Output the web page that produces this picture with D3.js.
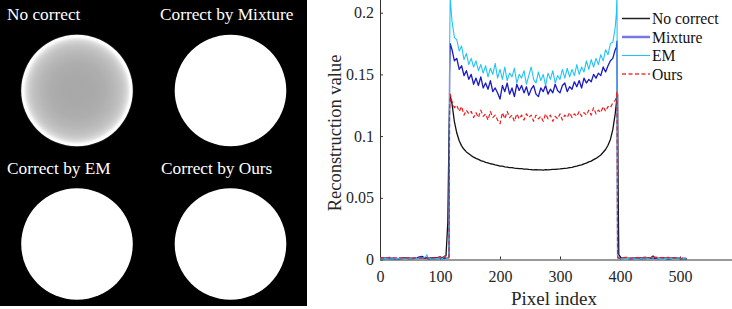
<!DOCTYPE html>
<html>
<head>
<meta charset="utf-8">
<script src="https://cdn.jsdelivr.net/npm/d3@7/dist/d3.min.js"></script>
<style>
  html, body { margin: 0; padding: 0; background: #fff; }
  svg { display: block; }
</style>
</head>
<body>
<div id="chart"></div>
<script>
// pixel positions along the profile line (sampled)
const pixelIndex = [
  0, 8, 16, 24, 32, 40, 48, 56, 62, 64, 70, 76, 78, 80, 88, 96, 100, 104, 108, 110, 113, 115,
  116, 117,
  120, 124, 128, 132, 136, 140, 144, 148, 152, 156,
  160, 164, 168, 172, 176, 180, 184, 188, 192, 196,
  200, 204, 208, 212, 216, 220, 224, 228, 232, 236,
  240, 244, 248, 252, 256, 260, 264, 268, 272, 276,
  280, 284, 288, 292, 296, 300, 304, 308, 312, 316,
  320, 324, 328, 332, 336, 340, 344, 348, 352, 356,
  360, 364, 368, 372, 376, 380, 384, 388, 392,
  394, 395, 396, 397, 398,
  402, 410, 418, 426, 434, 442, 448, 452, 455, 458, 464, 472, 480, 488, 496, 502, 508, 511
];

const noCorrect = [
  0.0010, 0.0008, 0.0011, 0.0007, 0.0009, 0.0012, 0.0008, 0.0010, 0.0009, 0.0011, 0.0010,
  0.0013, 0.0012, 0.0010, 0.0014, 0.0012, 0.0016, 0.0018, 0.0022, 0.0030, 0.0300, 0.1000,
  0.126, 0.133,
  0.1262, 0.1118, 0.1025, 0.0962, 0.0921, 0.0893, 0.0872, 0.0857, 0.0842, 0.0829,
  0.0819, 0.0811, 0.0801, 0.0796, 0.0787, 0.0783, 0.0776, 0.0773, 0.0767, 0.0763,
  0.0757, 0.0756, 0.0751, 0.0749, 0.0745, 0.0744, 0.0740, 0.0739, 0.0736, 0.0736,
  0.0733, 0.0733, 0.0730, 0.0729, 0.0727, 0.0728, 0.0726, 0.0727, 0.0725, 0.0728,
  0.0726, 0.0729, 0.0730, 0.0731, 0.0733, 0.0734, 0.0737, 0.0739, 0.0741, 0.0745,
  0.0747, 0.0752, 0.0756, 0.0762, 0.0767, 0.0775, 0.0781, 0.0791, 0.0797, 0.0809,
  0.0819, 0.0833, 0.0847, 0.0869, 0.0891, 0.0926, 0.0973, 0.1052, 0.1180,
  0.127, 0.131, 0.134, 0.050, 0.004,
  0.0012, 0.0010, 0.0009, 0.0011, 0.0008, 0.0010, 0.0012, 0.0011, 0.0013,
  0.0010, 0.0009, 0.0011, 0.0008, 0.0010, 0.0009, 0.0007, 0.0008, 0.0006
];

const mixture = [
  0.0008, 0.0012, 0.0006, 0.0010, 0.0005, 0.0009, 0.0011, 0.0007, 0.0012, 0.0020, 0.0025,
  0.0009, 0.0014, 0.0006, 0.0010, 0.0008, 0.0015, 0.0007, 0.0012, 0.0009, 0.0010, 0.0015,
  0.150, 0.175,
  0.170, 0.161, 0.163, 0.154, 0.157, 0.149, 0.153, 0.146, 0.150, 0.142,
  0.147, 0.141, 0.148, 0.139, 0.143, 0.138, 0.145, 0.136, 0.139, 0.135,
  0.130, 0.141, 0.136, 0.143, 0.134, 0.139, 0.132, 0.142, 0.137, 0.141,
  0.135, 0.140, 0.133, 0.138, 0.141, 0.134, 0.132, 0.139, 0.136, 0.141,
  0.134, 0.138, 0.135, 0.142, 0.137, 0.135, 0.141, 0.143, 0.136, 0.140,
  0.138, 0.144, 0.140, 0.145, 0.139, 0.147, 0.143, 0.146, 0.144, 0.150,
  0.147, 0.151, 0.149, 0.156, 0.152, 0.157, 0.161, 0.163, 0.170,
  0.172, 0.177, 0.002, 0.001, 0.0012,
  0.0008, 0.0012, 0.0006, 0.0010, 0.0014, 0.0007, 0.0011, 0.0015, 0.0028,
  0.0012, 0.0008, 0.0013, 0.0006, 0.0010, 0.0012, 0.0007, 0.0009, 0.0005
];

const em = [
  0.0005, 0.0009, 0.0004, 0.0008, 0.0011, 0.0006, 0.0009, 0.0012, 0.0007, 0.0010, 0.0008,
  0.0020, 0.0038, 0.0012, 0.0006, 0.0009, 0.0014, 0.0008, 0.0030, 0.0010, 0.0008, 0.0020,
  0.170, 0.212,
  0.193, 0.180, 0.178, 0.169, 0.173, 0.162, 0.167, 0.158, 0.163, 0.156,
  0.161, 0.153, 0.158, 0.151, 0.157, 0.148, 0.155, 0.150, 0.159, 0.147,
  0.154, 0.146, 0.156, 0.145, 0.151, 0.148, 0.155, 0.143, 0.150, 0.147,
  0.153, 0.142, 0.149, 0.156, 0.146, 0.143, 0.152, 0.145, 0.150, 0.141,
  0.151, 0.146, 0.153, 0.143, 0.149, 0.146, 0.154, 0.147, 0.155, 0.148,
  0.154, 0.149, 0.158, 0.150, 0.156, 0.152, 0.161, 0.154, 0.162, 0.156,
  0.163, 0.158, 0.166, 0.161, 0.170, 0.166, 0.175, 0.176, 0.188,
  0.200, 0.216, 0.003, 0.001, 0.0008,
  0.0006, 0.0009, 0.0011, 0.0005, 0.0008, 0.0012, 0.0007, 0.0018, 0.0010,
  0.0022, 0.0009, 0.0006, 0.0011, 0.0008, 0.0013, 0.0006, 0.0009, 0.0004
];

const ours = [
  0.0015, 0.0010, 0.0018, 0.0012, 0.0016, 0.0009, 0.0014, 0.0011, 0.0017, 0.0013, 0.0010,
  0.0015, 0.0009, 0.0016, 0.0012, 0.0018, 0.0024, 0.0013, 0.0028, 0.0015, 0.0012, 0.0030,
  0.120, 0.134,
  0.128, 0.123, 0.125, 0.120, 0.124, 0.117, 0.121, 0.118, 0.120, 0.115,
  0.119, 0.115, 0.121, 0.116, 0.118, 0.113, 0.120, 0.115, 0.117, 0.113,
  0.110, 0.119, 0.114, 0.120, 0.115, 0.117, 0.112, 0.118, 0.114, 0.117,
  0.113, 0.118, 0.115, 0.117, 0.112, 0.117, 0.114, 0.116, 0.112, 0.118,
  0.114, 0.117, 0.112, 0.116, 0.114, 0.118, 0.113, 0.117, 0.115, 0.119,
  0.115, 0.118, 0.116, 0.120, 0.116, 0.119, 0.117, 0.121, 0.117, 0.123,
  0.118, 0.121, 0.119, 0.124, 0.120, 0.124, 0.123, 0.127, 0.129,
  0.132, 0.136, 0.002, 0.0015, 0.001,
  0.0014, 0.0018, 0.0011, 0.0016, 0.0012, 0.0019, 0.0013, 0.0017, 0.0032,
  0.0015, 0.0020, 0.0012, 0.0017, 0.0011, 0.0016, 0.0010, 0.0013, 0.0008
];

const legendNames = ['No correct', 'Mixture', 'EM', 'Ours'];
const panelTitles = ['No correct', 'Correct by Mixture', 'Correct by EM', 'Correct by Ours'];
const xTicks = [0, 100, 200, 300, 400, 500];
const yTicks = [0, 0.05, 0.1, 0.15, 0.2];

// find a Times-like font that is really installed, and how wide it runs
function pickSerif() {
    const ctx = document.createElement('canvas').getContext('2d');
    const probe = 'Reconstruction value';
    const candidates = ['Liberation Serif', 'Times New Roman', 'Tinos', 'Nimbus Roman',
        'DejaVu Serif', 'Noto Serif'];
    for (const f of candidates) {
        let differs = false;
        for (const fb of ['monospace', 'sans-serif']) {
            ctx.font = '100px ' + fb;
            const base = ctx.measureText(probe).width;
            ctx.font = '100px "' + f + '", ' + fb;
            if (Math.abs(ctx.measureText(probe).width - base) > 0.5) differs = true;
            else { differs = false; break; }
        }
        if (differs) {
            ctx.font = '100px "' + f + '"';
            return { family: '"' + f + '", serif', em: ctx.measureText(probe).width / 100 };
        }
    }
    ctx.font = '100px serif';
    return { family: 'serif', em: ctx.measureText(probe).width / 100 };
}
const serif = pickSerif();
const fs = px => (px * 8.471 / serif.em).toFixed(2) + 'px';

const W = 732, H = 309;
const svg = d3.select('#chart').append('svg')
    .attr('width', W)
    .attr('height', H)
    .attr('viewBox', `0 0 ${W} ${H}`);

// ---------- left: four reconstructed images ----------
const imgSize = 307;
const displayMax = 0.11;   // window used to show the images
const gray = d3.scaleLinear().domain([0, displayMax]).range([0, 255]).clamp(true);
const objCenter = 256, objHalf = 140;

svg.append('rect')
    .attr('x', 0).attr('y', 0)
    .attr('width', imgSize).attr('height', imgSize - 1)
    .attr('fill', '#000');

// radial profile of the uncorrected image, taken from its line profile
const defs = svg.append('defs');
const grad = defs.append('radialGradient').attr('id', 'noCorrectGrad');
const stops = pixelIndex
    .map((p, i) => ({ r: (p - objCenter) / objHalf, v: noCorrect[i] }))
    .filter(d => d.r >= 0 && d.r <= 1);
stops.forEach(d => {
    const g = Math.round(gray(d.v));
    grad.append('stop')
        .attr('offset', d.r)
        .attr('stop-color', `rgb(${g},${g},${g})`);
});

const panelSeries = [noCorrect, mixture, em, ours];
const panelPos = [
    { cx: 77, cy: 90.5, tx: 7, ty: 20 },
    { cx: 230.5, cy: 90.5, tx: 160, ty: 20 },
    { cx: 77, cy: 244, tx: 7, ty: 173.5 },
    { cx: 230.5, cy: 244, tx: 161, ty: 173.5 }
];
panelPos.forEach((p, i) => {
    let fill;
    if (i === 0) {
        fill = 'url(#noCorrectGrad)';
        svg.append('circle')
            .attr('cx', p.cx).attr('cy', p.cy).attr('r', 56.5)
            .attr('fill', '#555').attr('opacity', 0.35);
    } else {
        const inside = panelSeries[i].filter((v, k) => pixelIndex[k] >= 125 && pixelIndex[k] <= 385);
        const g = Math.round(gray(d3.mean(inside)));
        fill = `rgb(${g},${g},${g})`;
    }
    svg.append('circle')
        .attr('cx', p.cx).attr('cy', p.cy).attr('r', 55.8)
        .attr('fill', fill);
    svg.append('text')
        .attr('x', p.tx).attr('y', p.ty)
        .attr('fill', '#fff')
        .style('font-family', serif.family)
        .style('font-size', fs(17.3))
        .text(panelTitles[i]);
});

// ---------- right: line profiles ----------
const x = d3.scaleLinear().domain([0, 600]).range([380, 740]);
const y = d3.scaleLinear().domain([0, 0.21]).range([259.5, 0.36]);

const axisColor = '#333';

const xAxis = svg.append('g')
    .attr('transform', 'translate(0,259.5)')
    .call(d3.axisBottom(x).tickValues(xTicks).tickSize(-3).tickSizeOuter(0).tickPadding(11));
const yAxis = svg.append('g')
    .attr('transform', 'translate(380,0)')
    .call(d3.axisLeft(y).tickValues(yTicks).tickSize(-3).tickSizeOuter(0).tickPadding(6)
        .tickFormat(d => String(d)));

[xAxis, yAxis].forEach(g => {
    g.attr('font-family', null).attr('font-size', null);
    g.select('.domain').attr('stroke', axisColor).attr('stroke-width', 1);
    g.selectAll('.tick line').attr('stroke', axisColor);
    g.selectAll('.tick text')
        .attr('fill', '#262626')
        .style('font-family', serif.family)
        .style('font-size', fs(16));
});
yAxis.select('.domain').attr('d', 'M0.5,259.5V0');

svg.append('text')
    .attr('x', 554).attr('y', 305)
    .attr('text-anchor', 'middle')
    .attr('fill', '#262626')
    .style('font-family', serif.family)
    .style('font-size', fs(19))
    .text('Pixel index');

svg.append('text')
    .attr('transform', 'translate(341,133) rotate(-90)')
    .attr('text-anchor', 'middle')
    .attr('fill', '#262626')
    .style('font-family', serif.family)
    .style('font-size', fs(18.5))
    .text('Reconstruction value');

const series = [
    { values: noCorrect, color: '#111', width: 1.3, dash: null },
    { values: mixture, color: '#1a1ac4', width: 1.3, dash: null },
    { values: em, color: '#22c4f6', width: 1.1, dash: null },
    { values: ours, color: '#f01c1c', width: 1.2, dash: '4,2.5' }
];

defs.append('clipPath').attr('id', 'plotClip')
    .append('rect').attr('x', 380).attr('y', -5).attr('width', 360).attr('height', 265);

const plot = svg.append('g').attr('clip-path', 'url(#plotClip)');
const line = d3.line()
    .x((d, i) => x(pixelIndex[i]))
    .y(d => y(d));

series.forEach(s => {
    plot.append('path')
        .datum(s.values)
        .attr('fill', 'none')
        .attr('stroke', s.color)
        .attr('stroke-width', s.width)
        .attr('stroke-linejoin', 'round')
        .attr('stroke-dasharray', s.dash)
        .attr('d', line);
});

// legend
const legendStyle = [
    { color: '#222', width: 1.5, dash: null },
    { color: '#7878e0', width: 2.5, dash: null },
    { color: '#22c0f4', width: 1.1, dash: null },
    { color: '#ee3a3a', width: 1.3, dash: '4,2.5' }
];
const legend = svg.append('g');
legendNames.forEach((name, i) => {
    const ly = 18.5 + i * 18.5;
    legend.append('line')
        .attr('x1', 622).attr('x2', 650)
        .attr('y1', ly).attr('y2', ly)
        .attr('stroke', legendStyle[i].color)
        .attr('stroke-width', legendStyle[i].width)
        .attr('stroke-dasharray', legendStyle[i].dash);
    legend.append('text')
        .attr('x', 652).attr('y', ly + 5.5)
        .attr('fill', '#111')
        .style('font-family', serif.family)
        .style('font-size', fs(15.7))
        .text(name);
});
</script>
</body>
</html>
